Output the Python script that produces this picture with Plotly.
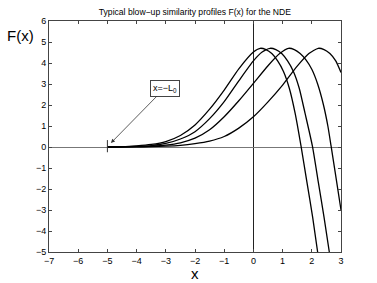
import plotly.graph_objects as go

L0 = 5.0

x1 = [-5, -4.5, -4, -3.5, -3, -2.5, -2, -1.5, -1, -0.5, 0, 0.23, 0.43, 0.63, 0.83, 1.03, 1.23, 1.43, 1.63, 1.83, 2.03, 2.2]
y1 = [0, 0.01, 0.05, 0.12, 0.26, 0.55, 1.05, 1.8, 2.71, 3.72, 4.52, 4.7, 4.64, 4.45, 4.1, 3.6, 2.8, 1.6, 0.05, -1.65, -3.35, -5.0]

x2 = [-5, -4.5, -4, -3.5, -3, -2.5, -2, -1.5, -1, -0.5, 0, 0.3, 0.57, 0.77, 0.97, 1.17, 1.37, 1.57, 1.77, 2.02, 2.22, 2.42, 2.6]
y2 = [0, 0.005, 0.03, 0.07, 0.17, 0.38, 0.73, 1.35, 2.16, 3.15, 4.1, 4.52, 4.7, 4.64, 4.45, 4.1, 3.6, 2.8, 1.6, 0.05, -1.65, -3.35, -5.0]

x3 = [-5, -4.5, -4, -3.5, -3, -2.5, -2, -1.5, -1, -0.5, 0, 0.5, 0.9, 1.2, 1.4, 1.6, 1.8, 2.0, 2.2, 2.4, 2.55, 2.66, 2.8, 3.0]
y3 = [0, 0.003, 0.015, 0.04, 0.09, 0.2, 0.42, 0.82, 1.44, 2.2, 3.03, 3.87, 4.45, 4.7, 4.64, 4.45, 4.15, 3.7, 3.0, 2.0, 1.0, 0.05, -1.2, -3.0]

x4 = [-5, -4.5, -4, -3.5, -3, -2.5, -2, -1.5, -1, -0.5, 0, 0.5, 1.0, 1.5, 1.9, 2.22, 2.42, 2.62, 2.82, 3.0]
y4 = [0, 0.002, 0.008, 0.018, 0.04, 0.08, 0.16, 0.28, 0.5, 0.9, 1.44, 2.15, 2.95, 3.85, 4.45, 4.7, 4.64, 4.45, 4.1, 3.55]

xticks = list(range(-7, 4))
yticks = list(range(-5, 7))

fig = go.Figure()
for xs, ys in [(x1, y1), (x2, y2), (x3, y3), (x4, y4)]:
    fig.add_trace(go.Scatter(x=xs, y=ys, mode="lines", line=dict(color="black", width=1.3, shape="spline", smoothing=0.6),
                             showlegend=False, hoverinfo="skip"))

font = "Liberation Sans, Arial, Helvetica, sans-serif"
axis_common = dict(showgrid=False, ticks="inside", ticklen=3, tickcolor="#444", mirror="allticks", automargin=False,
                   showline=True, linecolor="#444", linewidth=1, tickfont=dict(size=9, family=font, color="black"))

fig.update_layout(
    width=377, height=283,
    margin=dict(l=49, r=36, t=21, b=31),
    paper_bgcolor="white", plot_bgcolor="white",
    title=dict(text="Typical blow\u2212up similarity profiles F(x) for the NDE", x=0.517, xanchor="center",
               y=1 - 12 / 283, yanchor="middle", font=dict(size=8.6, family=font, color="black")),
    xaxis=dict(range=[-7, 3], tickvals=xticks, zeroline=True, zerolinecolor="#222", zerolinewidth=1,
               **axis_common),
    yaxis=dict(range=[-5, 6], tickvals=yticks, zeroline=True, zerolinecolor="#777", zerolinewidth=1,
               **axis_common),
    annotations=[
        dict(x=-L0 + 0.12, y=0.19, xref="x", yref="y", text="x=\u2212L<sub>0</sub>", showarrow=True,
             arrowhead=2, arrowsize=1, arrowwidth=0.8, arrowcolor="#333", ax=54, ay=-55,
             bordercolor="#444", borderwidth=1, borderpad=2, bgcolor="white",
             font=dict(size=9, family=font, color="black")),
        dict(x=-0.045, y=0.939, xref="paper", yref="paper", text="F(x)", showarrow=False, xanchor="right",
             yanchor="middle", font=dict(size=15, family=font, color="black")),
        dict(x=0.5, y=-0.093, xref="paper", yref="paper", text="x", showarrow=False, xanchor="center",
             yanchor="middle", font=dict(size=15, family=font, color="black")),
    ],
    shapes=[dict(type="line", xref="x", yref="y", x0=-L0, x1=-L0, y0=-0.25, y1=0.33,
                 line=dict(color="#333", width=1))],
)

fig.write_html("out.html", config={"displayModeBar": False},
               post_script="document.body.style.margin='0px';document.body.style.overflow='hidden';")
